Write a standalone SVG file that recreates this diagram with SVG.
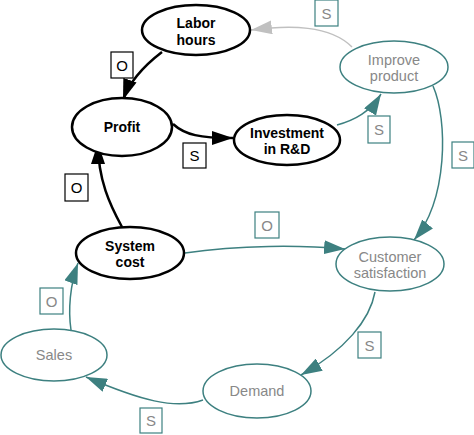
<svg xmlns="http://www.w3.org/2000/svg" width="474" height="435" viewBox="0 0 474 435">
<style>
.nb{fill:#fff;stroke:#000;stroke-width:2.5}
.nt{fill:#fff;stroke:#3d8080;stroke-width:1.5}
.tb{font-family:"Liberation Sans",Arial,sans-serif;font-weight:bold;font-size:14px;fill:#000;text-anchor:middle}
.tg{font-family:"Liberation Sans",Arial,sans-serif;font-size:14.5px;fill:#888;text-anchor:middle}
.eb{fill:none;stroke:#000;stroke-width:2.5}
.et{fill:none;stroke:#3d8080;stroke-width:1.5}
.eg{fill:none;stroke:#c0c0c0;stroke-width:1.5}
.lb{fill:#fff;stroke:#000;stroke-width:1.2}
.lt{fill:#fff;stroke:#3d8080;stroke-width:1.2}
.ltx{font-family:"Liberation Sans",Arial,sans-serif;font-size:15px;fill:#000;text-anchor:middle}
.ltg{font-family:"Liberation Sans",Arial,sans-serif;font-size:15px;fill:#888;text-anchor:middle}
</style>
<defs>
<marker id="ab" markerUnits="userSpaceOnUse" markerWidth="21" markerHeight="14" refX="21" refY="7" orient="auto"><path d="M0,0 L21,7 L0,14 z" fill="#000"/></marker>
<marker id="at" markerUnits="userSpaceOnUse" markerWidth="21" markerHeight="14" refX="21" refY="7" orient="auto"><path d="M0,0 L21,7 L0,14 z" fill="#3d8080"/></marker>
<marker id="ag" markerUnits="userSpaceOnUse" markerWidth="21" markerHeight="14" refX="21" refY="7" orient="auto"><path d="M0,0 L21,7 L0,14 z" fill="#c0c0c0"/></marker>
</defs>
<g id="connectors">
<path class="eb" d="M162,52 C145,65 130,80 123,100" marker-end="url(#ab)"/>
<path class="eb" d="M173,124 C185,135 200,138 233,138" marker-end="url(#ab)"/>
<path class="eb" d="M122,227 C110,205 98,180 98,143" marker-end="url(#ab)"/>
<path class="eg" d="M352,47 C330,25 290,25 251,30" marker-end="url(#ag)"/>
<path class="et" d="M337,125 C355,120 370,112 381,94" marker-end="url(#at)"/>
<path class="et" d="M433,86 C448,120 448,200 414,240" marker-end="url(#at)"/>
<path class="et" d="M185,253 C240,245 300,245 345,249" marker-end="url(#at)"/>
<path class="et" d="M375,292 C370,320 345,350 301,375" marker-end="url(#at)"/>
<path class="et" d="M203,400 C175,410 140,400 86,377" marker-end="url(#at)"/>
<path class="et" d="M71,330 C68,310 70,285 78,263" marker-end="url(#at)"/>
<rect class="lb" x="111" y="52" width="22" height="26"/><text class="ltx" x="122" y="70.5">O</text>
<rect class="lb" x="183" y="143" width="23" height="25"/><text class="ltx" x="194.5" y="161">S</text>
<rect class="lb" x="65" y="174" width="23" height="27"/><text class="ltx" x="76.5" y="193">O</text>
<rect class="lt" x="315" y="0" width="23" height="26"/><text class="ltg" x="326.5" y="18.5">S</text>
<rect class="lt" x="368" y="116" width="22" height="27"/><text class="ltg" x="379" y="135">S</text>
<rect class="lt" x="452" y="142" width="22" height="26"/><text class="ltg" x="463" y="160.5">S</text>
<rect class="lt" x="255" y="212" width="24" height="26"/><text class="ltg" x="267" y="230.5">O</text>
<rect class="lt" x="358" y="332" width="23" height="26"/><text class="ltg" x="369.5" y="350.5">S</text>
<rect class="lt" x="140" y="408" width="22" height="25"/><text class="ltg" x="151" y="426">S</text>
<rect class="lt" x="40" y="288" width="23" height="26"/><text class="ltg" x="51.5" y="306.5">O</text>
</g>
<g id="labor-hours"><ellipse class="nb" cx="196" cy="30" rx="54" ry="25"/><text class="tb" x="196" y="28">Labor</text><text class="tb" x="196" y="45">hours</text></g>
<g id="profit"><ellipse class="nb" cx="122" cy="127" rx="50" ry="29"/><text class="tb" x="122" y="132">Profit</text></g>
<g id="investment"><ellipse class="nb" cx="287" cy="140" rx="53" ry="25"/><text class="tb" x="287" y="138">Investment</text><text class="tb" x="287" y="154">in R&amp;D</text></g>
<g id="system-cost"><ellipse class="nb" cx="130" cy="253" rx="54" ry="26"/><text class="tb" x="130" y="251">System</text><text class="tb" x="130" y="267">cost</text></g>
<g id="improve-product"><ellipse class="nt" cx="394" cy="67" rx="54" ry="26"/><text class="tg" x="394" y="65">Improve</text><text class="tg" x="394" y="81">product</text></g>
<g id="customer-satisfaction"><ellipse class="nt" cx="390" cy="264" rx="54" ry="27"/><text class="tg" x="390" y="262">Customer</text><text class="tg" x="390" y="278">satisfaction</text></g>
<g id="sales"><ellipse class="nt" cx="54" cy="355" rx="53" ry="26"/><text class="tg" x="54" y="360">Sales</text></g>
<g id="demand"><ellipse class="nt" cx="257" cy="391" rx="54" ry="27"/><text class="tg" x="257" y="396">Demand</text></g>
</svg>
